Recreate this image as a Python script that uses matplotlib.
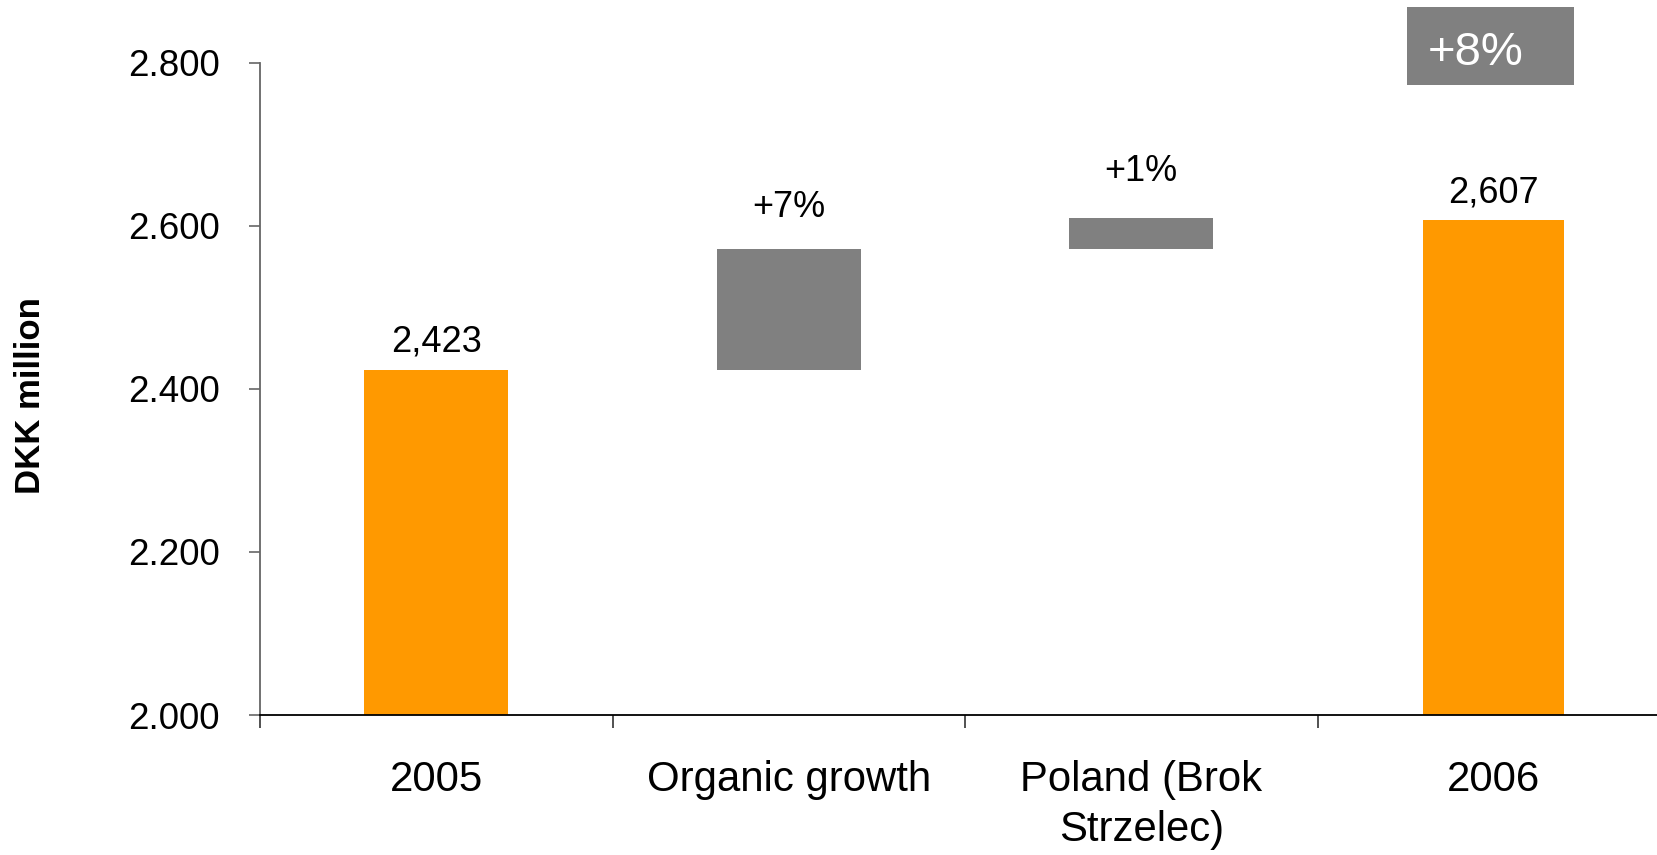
import matplotlib
matplotlib.use("Agg")
import matplotlib.pyplot as plt
from matplotlib.patches import Rectangle
from matplotlib.ticker import FuncFormatter

# ---- data ----
categories = ["2005", "Organic growth", "Poland (Brok\nStrzelec)", "2006"]
start_value = 2423
organic_delta = 149
poland_delta = 38
end_value = 2607
value_labels = ["2,423", "+7%", "+1%", "2,607"]
total_growth_label = "+8%"
y_ticks = [2000, 2200, 2400, 2600, 2800]
y_label = "DKK million"

# ---- styles ----
ORANGE = "#FF9900"
GRAY = "#808080"
FONT = "Liberation Sans"
label_gaps_px = [19, 32, 37, 18]  # gap between bar top and label baseline

W, H, DPI = 1657, 855, 100
fig = plt.figure(figsize=(W / DPI, H / DPI), dpi=DPI)
fig.patch.set_facecolor("white")

ax = fig.add_axes([260 / W, 1 - 715 / H, 1410 / W, (715 - 63) / H])

x = list(range(len(categories)))
bottoms = [0, start_value, start_value + organic_delta, 0]
heights = [start_value, organic_delta, poland_delta, end_value]
colors = [ORANGE, GRAY, GRAY, ORANGE]
widths = [0.408, 0.408, 0.408, 0.4]

for xi, b, h, c, w in zip(x, bottoms, heights, colors, widths):
    ax.bar(xi, h, bottom=b, width=w, color=c, linewidth=0, zorder=2)

ax.set_ylim(2000, 2800)
ax.set_xlim(-0.5, 3.5)

# value labels
px_to_pt = 72 / DPI
for xi, b, h, lab, gap in zip(x, bottoms, heights, value_labels, label_gaps_px):
    ax.annotate(lab, xy=(xi, b + h), xytext=(0, gap * px_to_pt),
                textcoords="offset points", ha="center", va="baseline",
                fontsize=26, family=FONT, color="black")

# y axis
ax.set_yticks(y_ticks)
ax.yaxis.set_major_formatter(FuncFormatter(lambda v, p: f"{int(v):,}".replace(",", ".")))
ax.tick_params(axis="y", direction="out", length=11 * px_to_pt, width=1.2,
               color="#666666", pad=29 * px_to_pt, labelsize=26.5)
for t in ax.get_yticklabels():
    t.set_family(FONT)

# x axis: boundary ticks + centered category labels
ax.set_xticks([-0.5, 0.5, 1.5, 2.5, 3.5])
ax.set_xticklabels([])
ax.set_xticks(x, minor=True)
ax.set_xticklabels(categories, minor=True, family=FONT, fontsize=30.2,
                   linespacing=1.32)
ax.tick_params(axis="x", which="major", direction="out", length=13 * px_to_pt,
               width=1.2, color="#333333")
ax.tick_params(axis="x", which="minor", length=0, pad=45 * px_to_pt)

for s in ["top", "right"]:
    ax.spines[s].set_visible(False)
ax.spines["left"].set_color("#666666")
ax.spines["left"].set_linewidth(1.3)
ax.spines["bottom"].set_color("black")
ax.spines["bottom"].set_linewidth(1.3)
ax.spines["bottom"].set_zorder(3)

# y label
fig.text(31 / W, 1 - 396 / H, y_label, rotation=90, ha="center", va="center",
         fontsize=25, fontweight="bold", family=FONT)

# total growth box
fig.patches.append(Rectangle((1407 / W, 1 - 85 / H), 167 / W, 78 / H,
                             transform=fig.transFigure, facecolor=GRAY,
                             edgecolor="none", zorder=5))
fig.text(1428 / W, 1 - 65 / H, total_growth_label, ha="left", va="baseline",
         fontsize=34, color="white", family=FONT, zorder=6)

fig.savefig("out.png", dpi=DPI, facecolor="white")
